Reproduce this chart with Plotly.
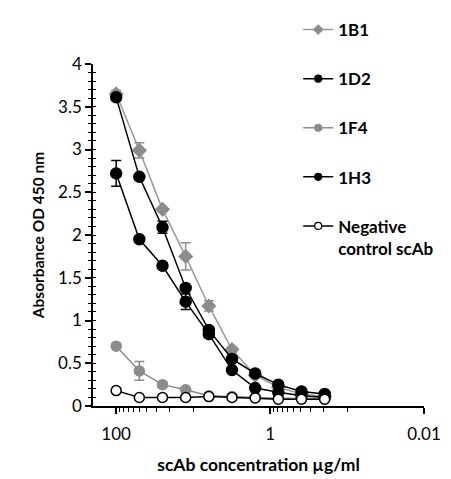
import numpy as np
import plotly.graph_objects as go

# scAb concentration (µg/ml), two-fold serial dilution
conc = [100, 50, 25, 12.5, 6.25, 3.125, 1.5625, 0.78125, 0.390625, 0.1953125]

# Absorbance OD 450 nm (mean) and error per clone
b1_mean = [3.65, 2.99, 2.30, 1.75, 1.17, 0.66, 0.36, 0.22, 0.14, 0.11]
b1_err = [0.04, 0.09, 0.02, 0.16, 0.06, 0.03, 0.02, 0.01, 0.01, 0.01]

d2_mean = [3.61, 2.68, 2.09, 1.38, 0.89, 0.55, 0.38, 0.25, 0.17, 0.14]
d2_err = [0.03, 0.02, 0.07, 0.03, 0.03, 0.02, 0.01, 0.01, 0.01, 0.01]

f4_mean = [0.70, 0.41, 0.25, 0.19, 0.12, 0.11, 0.10, 0.09, 0.09, 0.08]
f4_err = [0.02, 0.11, 0.03, 0.02, 0.01, 0.01, 0.01, 0.01, 0.01, 0.01]

h3_mean = [2.72, 1.95, 1.64, 1.22, 0.84, 0.42, 0.21, 0.16, 0.12, 0.10]
h3_err = [0.15, 0.02, 0.02, 0.09, 0.04, 0.02, 0.01, 0.01, 0.01, 0.01]

neg_mean = [0.18, 0.10, 0.10, 0.10, 0.11, 0.10, 0.095, 0.08, 0.08, 0.08]
neg_err = [0.01, 0.01, 0.01, 0.01, 0.01, 0.01, 0.01, 0.01, 0.01, 0.01]

x_tick_vals = [100, 1, 0.01]
x_tick_text = ["100", "1", "0.01"]
x_minor_vals = [90, 80, 70, 60, 50, 40, 30, 20, 10, 0.9, 0.8, 0.7, 0.6, 0.5, 0.4, 0.3, 0.2, 0.1]

GRAY = "#8c8c8c"
LGRAY = "#9a9a9a"
BLACK = "#000000"
FONT = "Lato"

series = [
    ("1B1", b1_mean, b1_err, LGRAY, "diamond", GRAY, GRAY, 10),
    ("1D2", d2_mean, d2_err, BLACK, "circle", BLACK, BLACK, 11),
    ("1F4", f4_mean, f4_err, GRAY, "circle", GRAY, GRAY, 10),
    ("1H3", h3_mean, h3_err, BLACK, "circle", BLACK, BLACK, 11),
    ("Negative<br>control scAb", neg_mean, neg_err, BLACK, "circle", "white", BLACK, 10),
]

fig = go.Figure()
for i, (name, mean, err, lcol, sym, fill, edge, size) in enumerate(series):
    fig.add_trace(go.Scatter(
        x=conc, y=mean, name=name, mode="lines+markers",
        showlegend=False,
        line=dict(color=lcol, width=1.5),
        marker=dict(symbol=sym, size=size, color=fill,
                    line=dict(color=edge, width=1.5)),
        error_y=dict(type="data", array=err, visible=True,
                     color=GRAY if lcol != BLACK else BLACK,
                     thickness=1.5, width=5),
    ))

# legend entries with small key markers
for i, (name, mean, err, lcol, sym, fill, edge, size) in enumerate(series):
    fig.add_trace(go.Scatter(
        x=[None], y=[None], name=name, mode="lines+markers",
        legendgroup=f"g{i}", showlegend=True,
        line=dict(color=lcol, width=1.5),
        marker=dict(symbol=sym, size=7, color=fill,
                    line=dict(color=edge, width=1.2)),
    ))

# extra overlaid axis to draw the inner half of the y minor ticks
fig.add_trace(go.Scatter(x=[conc[0]], y=[0], yaxis="y2", mode="markers",
                         marker=dict(opacity=0), showlegend=False,
                         hoverinfo="skip"))

fig.update_layout(
    width=451, height=479,
    margin=dict(l=93, r=23, t=55, b=73),
    paper_bgcolor="white", plot_bgcolor="white",
    font=dict(family=FONT, color="black", size=16),
    showlegend=True,
    legend=dict(
        x=0.62, y=1.152, xanchor="left", yanchor="top",
        font=dict(family=FONT, size=17, color="black", weight="bold"),
        tracegroupgap=24, valign="top", bgcolor="rgba(0,0,0,0)",
        maxheight=470,
    ),
    xaxis=dict(
        type="log", range=[np.log10(200), -2], automargin=False,
        tickvals=x_tick_vals, ticktext=x_tick_text,
        ticks="outside", ticklen=6, tickwidth=1.5, tickcolor="black",
        ticklabelstandoff=6,
        minor=dict(tickvals=x_minor_vals, ticks="outside", ticklen=4,
                   tickwidth=1.2, tickcolor="black", showgrid=False),
        showline=True, linecolor="black", linewidth=1.5,
        showgrid=False, zeroline=False,
        tickfont=dict(size=17, family=FONT),
        title=dict(text="scAb concentration µg/ml",
                   font=dict(size=17.5, family=FONT, weight="bold"),
                   standoff=16),
    ),
    yaxis=dict(
        range=[0, 4], dtick=0.5, tick0=0, automargin=False,
        ticks="outside", ticklen=6, tickwidth=1.5, tickcolor="black",
        minor=dict(dtick=0.1, ticks="outside", ticklen=3,
                   tickwidth=1.2, tickcolor="black", showgrid=False),
        showline=True, linecolor="black", linewidth=1.5,
        showgrid=False, zeroline=False,
        tickfont=dict(size=17, family=FONT),
        title=dict(text="Absorbance OD 450 nm",
                   font=dict(size=15.5, family=FONT, weight="bold"),
                   standoff=10),
    ),
    yaxis2=dict(
        overlaying="y", side="left", range=[0, 4], dtick=0.1, tick0=0,
        ticks="inside", ticklen=3, tickwidth=1.2, tickcolor="black",
        showticklabels=False, showline=False, showgrid=False,
        zeroline=False,
    ),
)

fig.write_html("out.html")
